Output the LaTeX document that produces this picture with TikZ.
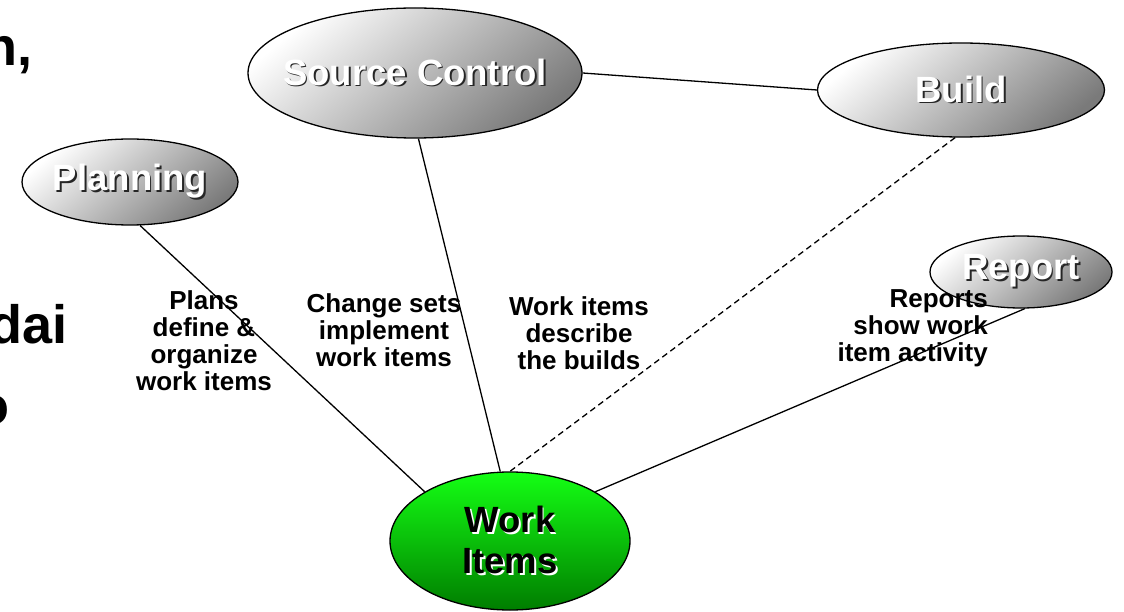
\documentclass[tikz,border=0pt]{standalone}
\usepackage{fontspec}
\setmainfont{Liberation Sans}
\usetikzlibrary{shapes.geometric}
\newcommand\shadowtxt[3]{\leavevmode\rlap{\kern1.8pt\raisebox{-1.8pt}{\textcolor{#2}{#1}}}\textcolor{#3}{#1}}
\newcommand\graybubtxt[1]{\makebox[0pt]{\shadowtxt{#1}{black!85}{white}}}
\newcommand\greenbubtxt[1]{\makebox[0pt]{\shadowtxt{#1}{white}{black}}}
\begin{document}
\begin{tikzpicture}[x=1pt,y=-1pt,
  bubble/.style={ellipse, draw=black, line width=1.3pt, inner sep=0pt,
    top color=white, bottom color=black!52, shading angle=40,
    font=\fontsize{36.5}{41}\selectfont\bfseries},
  greenbubble/.style={bubble, top color={rgb,255:red,20;green,255;blue,20},
    bottom color={rgb,255:red,0;green,125;blue,0}, align=center},
  lbl/.style={inner sep=0pt, align=center, font=\fontsize{26}{27.3}\selectfont\bfseries},
  big/.style={inner sep=0pt, font=\fontsize{54}{62}\selectfont\bfseries},
  link/.style={line width=1.3pt, black},
  dlink/.style={line width=1.3pt, black, dash pattern=on 6pt off 4pt}]
\useasboundingbox (0,0) rectangle (1124,612);
% cut-off slide text at the left
\node[big, anchor=base east] (t1) at (33,66) {n,};
\node[big, anchor=base east] (t2) at (68,343) {dai};
\node[big, anchor=base east] (t3) at (10,424) {o};
% bubbles
\node[bubble, minimum width=334pt, minimum height=130pt] (sc) at (415,73) {\graybubtxt{Source Control}};
\node[bubble, minimum width=287pt, minimum height=94pt] (build) at (961,90) {\graybubtxt{Build}};
\node[bubble, minimum width=216pt, minimum height=86pt] (plan) at (130,182) {\graybubtxt{Planning}};
\node[bubble, minimum width=182pt, minimum height=72pt] (rep) at (1021,272) {\graybubtxt{Report}};
\node[greenbubble, minimum width=240pt, minimum height=138pt] (wi) at (510,541) {\greenbubtxt{Work}\\\greenbubtxt{Items}};
% connectors
\draw[link] (sc.east) -- (build.west);
\draw[link] (plan.-77) -- (wi.150);
\draw[link] (sc.-87) -- (wi.98);
\draw[dlink] (build.-97) -- (wi.90);
\draw[link] (rep.-84) -- (wi.30);
% labels
\node[lbl, anchor=north] (l1) at (204,290) {Plans\\define \&\\organize\\work items};
\node[lbl, anchor=north] (l2) at (384,293) {Change sets\\implement\\work items};
\node[lbl, anchor=north] (l3) at (579,296) {Work items\\describe\\the builds};
\node[lbl, anchor=north east, align=right] (l4) at (988,289) {Reports\\show work\\item activity};
\end{tikzpicture}
\end{document}
